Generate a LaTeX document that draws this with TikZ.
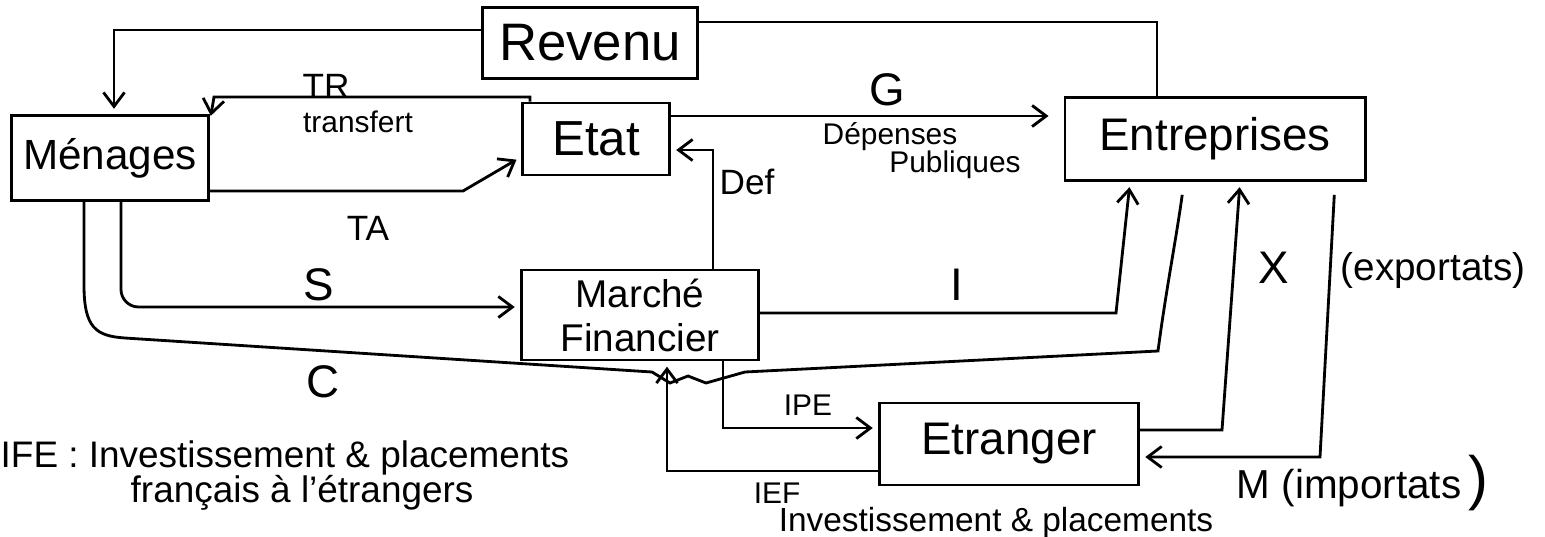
\documentclass[tikz,border=0pt]{standalone}
\usepackage{fontspec}
\setmainfont{Liberation Sans}
\usetikzlibrary{arrows.meta}
\begin{document}
\begin{tikzpicture}[x=0.01cm,y=-0.01cm,
  box/.style={draw, line width=0.8pt, inner sep=0pt, font=\fontsize{13}{15}\selectfont},
  line/.style={line width=0.8pt},
  flow/.style={line width=0.8pt, -{Straight Barb[length=4pt,width=6pt]}, shorten >=1.5pt},
  lbl/.style={inner sep=0pt, font=\fontsize{10}{12}\selectfont},
  big/.style={inner sep=0pt, font=\fontsize{13}{15}\selectfont},
  small/.style={inner sep=0pt, font=\fontsize{8.5}{10}\selectfont}]
\useasboundingbox (0,0) rectangle (1545,536);

% boxes
\node[box, minimum width=2.15cm, minimum height=0.71cm, font=\fontsize{15}{17}\selectfont] (rev) at (590,43) {Revenu};
\node[box, minimum width=1.97cm, minimum height=0.85cm, font=\fontsize{12}{14}\selectfont] (men) at (110,158) {Ménages};
\node[box, minimum width=1.47cm, minimum height=0.72cm, font=\fontsize{14}{16}\selectfont] (etat) at (596,139) {Etat};
\node[box, minimum width=3.00cm, minimum height=0.83cm] (ent) at (1215,139) {Entreprises};
\node[box, minimum width=2.37cm, minimum height=0.90cm, align=center, font=\fontsize{11}{12.5}\selectfont] (mf) at (640,315) {Marché\\Financier};
\node[box, minimum width=2.59cm, minimum height=0.82cm] (etr) at (1009,444) {Etranger};

% Revenu loop
\coordinate (r1) at (1157,22);
\coordinate (r2) at (114,30);
\draw[line] (ent.north -| r1) |- (rev.east |- r1);
\draw[flow] (rev.west |- r2) -| (men.north -| r2);

% TR transfert
\coordinate (t1) at (530,97);
\coordinate (t2) at (214,97);
\coordinate (t3) at (0,121);
\draw[flow] (etat.north -| t1) -- (t1) -- (t2) -- (men.east |- t3);

% TA
\coordinate (ta1) at (463,191);
\coordinate (ta2) at (0,157);
\draw[flow] (men.east |- ta1) -- (ta1) -- (etat.west |- ta2);

% G
\coordinate (g) at (0,116);
\draw[flow, shorten >=0.15cm] (etat.east |- g) -- (ent.west |- g);

% Def
\coordinate (d) at (713,150);
\draw[flow] (mf.north -| d) |- (etat.east |- d);

% S
\coordinate (s) at (121,307);
\draw[flow, rounded corners=5pt] (men.south -| s) |- (mf.west |- s);

% C
\coordinate (c1) at (84,285);
\coordinate (c2) at (125,338);
\coordinate (c3) at (652,372);
\coordinate (c4) at (745,372);
\coordinate (c5) at (1158,351);
\coordinate (c6) at (1184,0);
\draw[line, shorten >=0.13cm] (men.south -| c1) -- (c1) .. controls (84,328) and (96,336) .. (c2)
  -- (c3) -- (670,383) -- (688,376) -- (706,383) -- (c4) -- (c5)
  .. controls (1166,290) and (1176,240) .. (ent.south -| c6);

% I
\coordinate (i1) at (1116,313);
\coordinate (i2) at (1130,0);
\draw[flow] (mf.east |- i1) -- (i1) -- (ent.south -| i2);

% IPE
\coordinate (p) at (723,428);
\draw[flow] (mf.south -| p) |- (etr.west |- p);

% IEF
\coordinate (q) at (667,471);
\draw[flow] (etr.west |- q) -| (mf.south -| q);

% X
\coordinate (x1) at (1222,430);
\coordinate (x2) at (1240,0);
\draw[flow] (etr.east |- x1) -- (x1) -- (ent.south -| x2);

% M
\coordinate (m1) at (1335,0);
\coordinate (m2) at (1320,457);
\draw[flow, shorten <=0.13cm] (ent.south -| m1) -- (m2) -- (etr.east |- m2);

% labels
\node[lbl] (lTR) at (326,86) {TR};
\node[small] (ltr) at (358,122) {transfert};
\node[lbl] (lTA) at (368,228) {TA};
\node[big] (lG) at (887,90) {G};
\node[small] (ldep) at (890,137) {Dépenses};
\node[small] (lpub) at (955,165) {Publiques};
\node[lbl] (lDef) at (747,182) {Def};
\node[big] (lS) at (319,285) {S};
\node[big] (lC) at (323,382) {C};
\node[big] (lI) at (957,285) {I};
\node[big] (lX) at (1274,268) {X};
\node[lbl, anchor=west, font=\fontsize{11}{13}\selectfont] (lexp) at (1340,270) {(exportats)};
\node[small] (lIPE) at (808,405) {IPE};
\node[small] (lIEF) at (777,493) {IEF};
\node[small, font=\fontsize{9.5}{11}\selectfont] (linv) at (996,523) {Investissement \& placements};
\node[lbl, anchor=west, font=\fontsize{11.5}{13}\selectfont] (limp) at (1236,483) {M (importats\,\fontsize{17}{17}\selectfont)};
\node[lbl, anchor=west, font=\fontsize{10.5}{12}\selectfont] (leg1) at (0,458) {IFE : Investissement \& placements};
\node[lbl, anchor=west, font=\fontsize{10.5}{12}\selectfont] (leg2) at (130,493) {français à l'étrangers};
\end{tikzpicture}
\end{document}
